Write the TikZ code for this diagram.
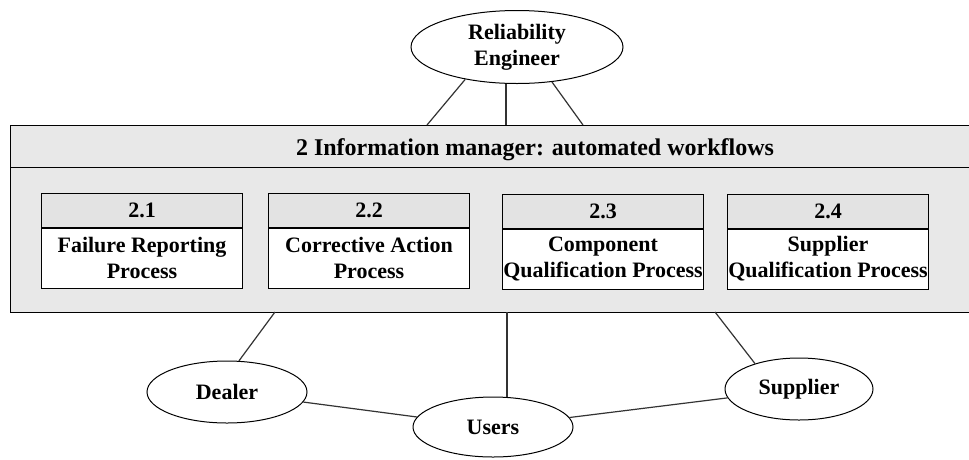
\documentclass[tikz,border=0pt]{standalone}
\usepackage{fontspec}
\setmainfont{Liberation Serif}
\usetikzlibrary{shapes.geometric,positioning}
\definecolor{panelgray}{gray}{0.91}
\definecolor{cellgray}{gray}{0.89}

\tikzset{
    actor/.style={draw, ellipse, inner sep=0pt, line width=1pt, fill=white, align=center},
    cellhead/.style={draw, fill=cellgray, line width=1pt, minimum width=201pt, minimum height=34pt, inner sep=0pt},
    cellbody/.style={draw, fill=white, line width=1pt, minimum width=201pt, minimum height=60pt, inner sep=0pt, align=center},
    link/.style={line width=1.2pt, draw=black!80}
}

\begin{document}
\begin{tikzpicture}[x=1pt, y=-1pt, font=\fontsize{22}{26}\selectfont\bfseries]
    \clip (0,0) rectangle (969,459);
    \fill[white] (0,0) rectangle (969,459);

    % information manager panel
    \node[draw, fill=panelgray, line width=1pt, anchor=north west, minimum width=975pt, minimum height=187pt, inner sep=0pt] (panel) at (10,125) {};
    \node[draw, fill=panelgray, line width=1pt, anchor=north west, minimum width=975pt, minimum height=42pt, inner sep=0pt] (title) at (10,125) {};
    \node[font=\fontsize{24}{28}\selectfont\bfseries, text depth=0pt] (titletext) at (535,147) {2 Information manager: automated workflows};

    % sub processes
    \node[cellhead] (h1) at (142,210) {2.1};
    \node[cellbody, below=0pt of h1] (p1) {Failure Reporting\\Process};
    \node[cellhead] (h2) at (369,210) {2.2};
    \node[cellbody, below=0pt of h2] (p2) {Corrective Action\\Process};
    \node[cellhead] (h3) at (603,211) {2.3};
    \node[cellbody, below=0pt of h3] (p3) {Component\\Qualification Process};
    \node[cellhead] (h4) at (828,211) {2.4};
    \node[cellbody, below=0pt of h4] (p4) {Supplier\\Qualification Process};

    % actors
    \node[actor, minimum width=212pt, minimum height=73pt] (eng) at (517,47) {Reliability\\Engineer};
    \node[actor, minimum width=160pt, minimum height=62pt] (dealer) at (227,392) {Dealer};
    \node[actor, minimum width=160pt, minimum height=60pt] (users) at (493,427) {Users};
    \node[actor, minimum width=148pt, minimum height=62pt] (supplier) at (799,389) {Supplier};

    % attachment points on the panel
    \coordinate (t1) at (427,125);
    \coordinate (t2) at (506,125);
    \coordinate (t3) at (583,125);
    \coordinate (b1) at (275,312);
    \coordinate (b2) at (507,312);
    \coordinate (b3) at (715,312);

    \draw[link] (eng.212) -- (t1);
    \draw[link] (t2) -- (t2 |- eng.south);
    \draw[link] (eng.315) -- (t3);
    \draw[link] (b1) -- (dealer.69);
    \draw[link] (b2) -- (b2 |- users.north);
    \draw[link] (b3) -- (supplier.150);
    \draw[link] (dealer) -- (users);
    \draw[link] (users) -- (supplier);
\end{tikzpicture}
\end{document}
